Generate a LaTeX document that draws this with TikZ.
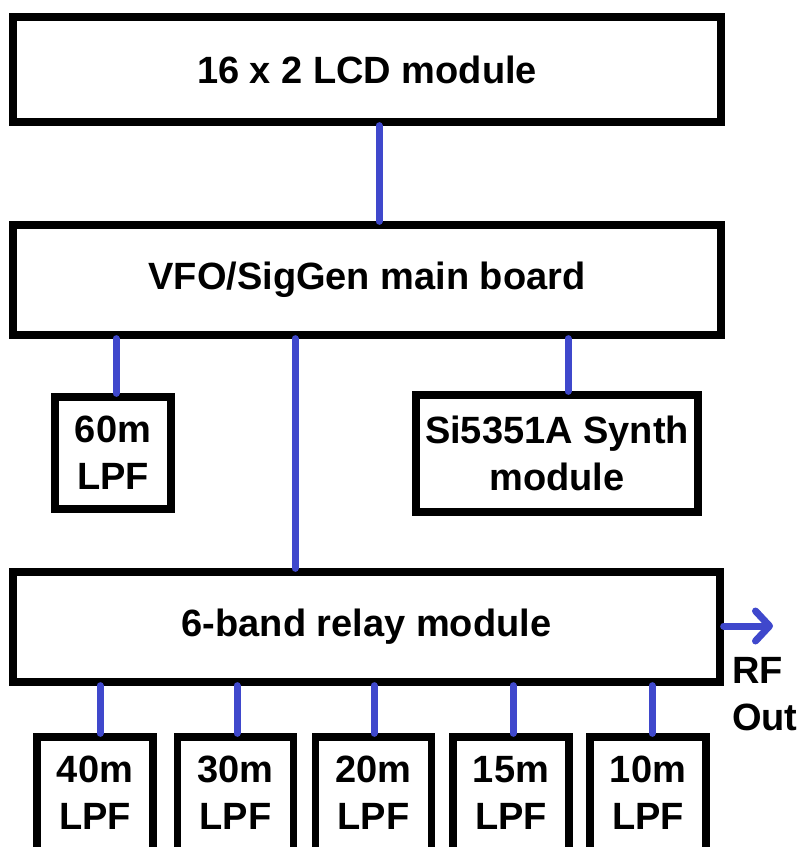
\documentclass[tikz,border=0pt]{standalone}
\usepackage{fontspec}
\setmainfont{Liberation Sans}
\usetikzlibrary{arrows.meta}
\definecolor{linkblue}{RGB}{63,72,204}
\tikzset{
  box/.style={draw=black, line width=7.3pt, fill=white, align=center, inner sep=0pt,
    font=\fontsize{38}{47}\selectfont\bfseries},
  link/.style={draw=linkblue, line width=7pt, line cap=round},
  lbl/.style={align=left, inner sep=0pt, font=\fontsize{38}{47}\selectfont\bfseries}
}
\begin{document}
\begin{tikzpicture}[x=1pt,y=-1pt]
\useasboundingbox (0,0) rectangle (798,847);
% boxes
\node[box, minimum width=708pt, minimum height=105pt] (lcd) at (367,69.5) {16 x 2 LCD module};
\node[box, minimum width=708pt, minimum height=110pt] (vfo) at (367,280) {VFO/SigGen main board};
\node[box, minimum width=116pt, minimum height=112pt] (lpf60) at (113,453) {60m\\LPF};
\node[box, minimum width=282pt, minimum height=117pt] (synth) at (557,453.5) {Si5351A Synth\\module};
\node[box, minimum width=707pt, minimum height=110pt] (relay) at (366.5,627) {6-band relay module};
\foreach \n/\x/\t in {lpf40/95/40m, lpf30/235.5/30m, lpf20/373.5/20m, lpf15/511/15m, lpf10/648/10m}{
  \node[box, minimum width=116pt, minimum height=118pt, text depth=7pt] (\n) at (\x,796) {\t\\LPF};
}
% x positions of connectors
\coordinate (ca) at (379,0);
\coordinate (cb) at (116,0);
\coordinate (cc) at (295,0);
\coordinate (cd) at (568,0);
\coordinate (c40) at (100,0);
\coordinate (c30) at (237,0);
\coordinate (c20) at (374,0);
\coordinate (c15) at (513,0);
\coordinate (c10) at (652,0);
% connectors
\draw[link] (lcd.south -| ca) -- (vfo.north -| ca);
\draw[link] (vfo.south -| cb) -- (lpf60.north -| cb);
\draw[link] (vfo.south -| cc) -- (relay.north -| cc);
\draw[link] (vfo.south -| cd) -- (synth.north -| cd);
\draw[link] (relay.south -| c40) -- (lpf40.north -| c40);
\draw[link] (relay.south -| c30) -- (lpf30.north -| c30);
\draw[link] (relay.south -| c20) -- (lpf20.north -| c20);
\draw[link] (relay.south -| c15) -- (lpf15.north -| c15);
\draw[link] (relay.south -| c10) -- (lpf10.north -| c10);
% RF out
\coordinate (rf) at (773,626);
\draw[link, -{Straight Barb[length=14pt, width=30pt, line cap=round, line join=round]}] (relay.east |- rf) -- (rf);
\node[lbl, anchor=north west] (rfout) at (732,657) {RF\\Out};
\end{tikzpicture}
\end{document}
